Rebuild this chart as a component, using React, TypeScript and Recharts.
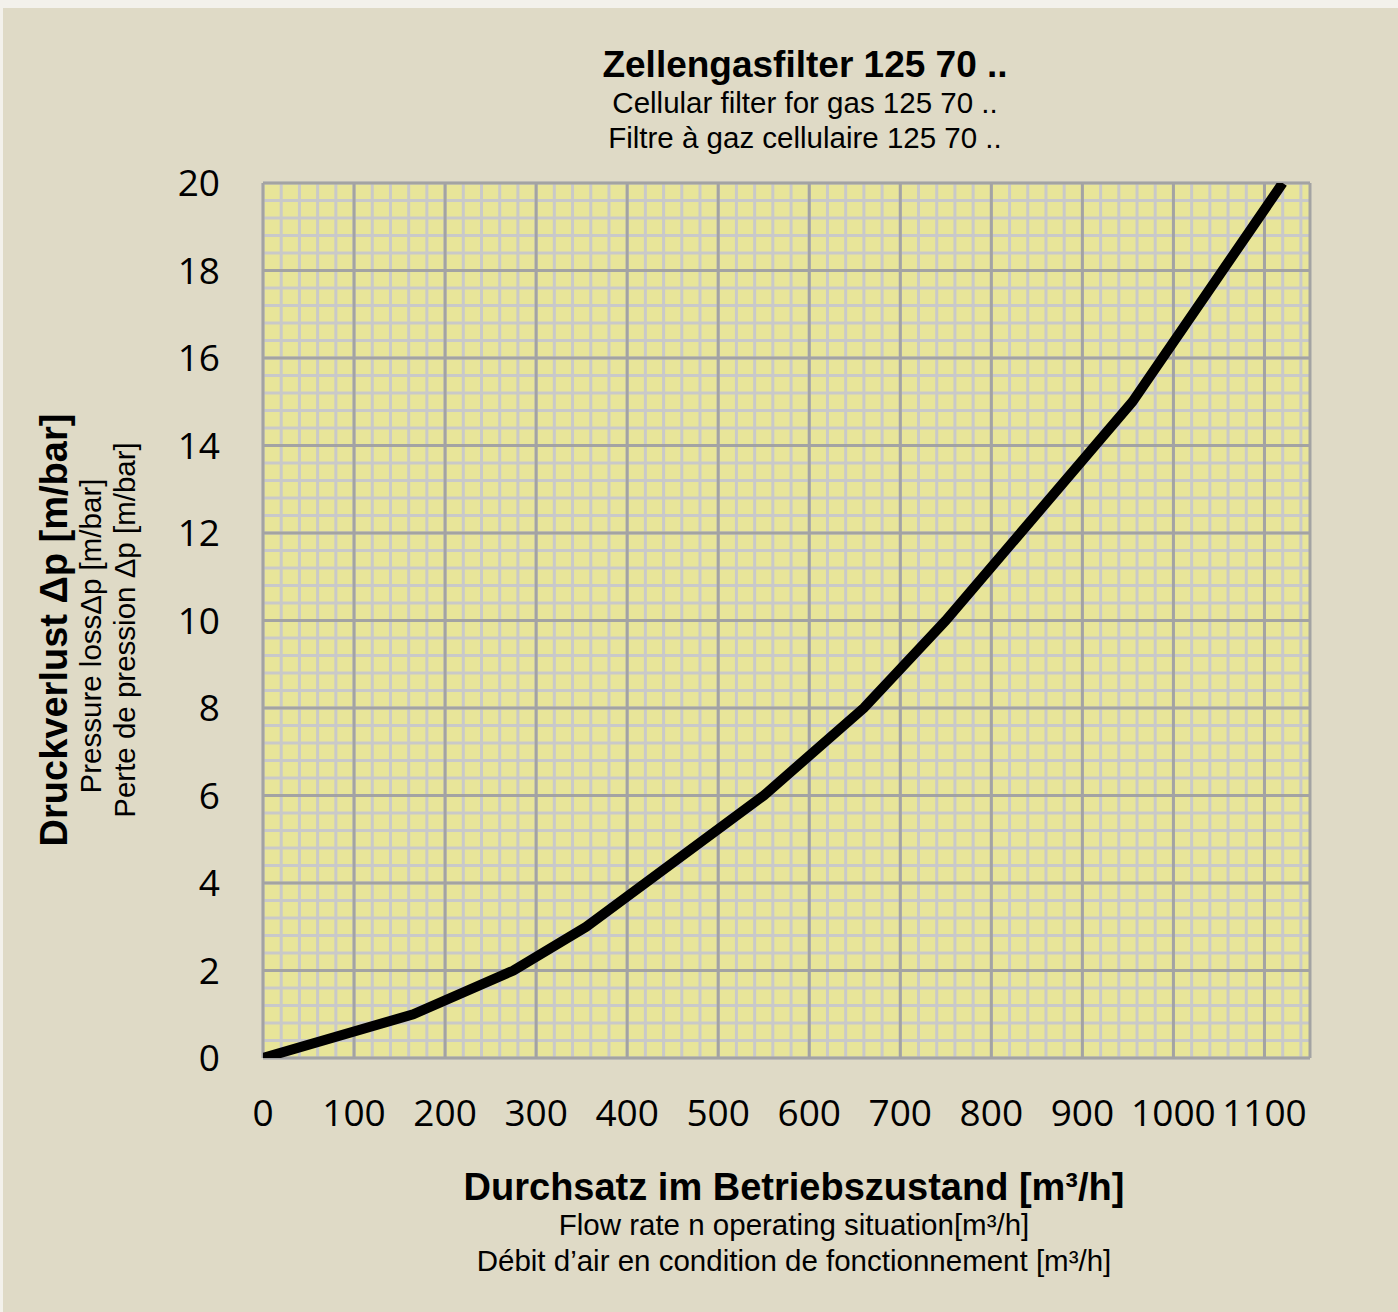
import React from 'react';
import { LineChart, Line, XAxis, YAxis, CartesianGrid } from 'recharts';

// Flow rate in operating situation [m³/h]
const flowRate = [0, 165, 275, 355, 550, 660, 750, 955, 1120];
// Pressure loss Δp [m/bar]
const pressureLoss = [0, 1, 2, 3, 6, 8, 10, 15, 20];

const xTicks = [0, 100, 200, 300, 400, 500, 600, 700, 800, 900, 1000, 1100];
const yTicks = [0, 2, 4, 6, 8, 10, 12, 14, 16, 18, 20];
const xMinorGrid = [0, 20, 40, 60, 80, 100, 120, 140, 160, 180, 200, 220, 240, 260, 280, 300, 320, 340, 360, 380, 400, 420, 440, 460, 480, 500, 520, 540, 560, 580, 600, 620, 640, 660, 680, 700, 720, 740, 760, 780, 800, 820, 840, 860, 880, 900, 920, 940, 960, 980, 1000, 1020, 1040, 1060, 1080, 1100, 1120, 1140];
const yMinorGrid = [0, 0.4, 0.8, 1.2, 1.6, 2, 2.4, 2.8, 3.2, 3.6, 4, 4.4, 4.8, 5.2, 5.6, 6, 6.4, 6.8, 7.2, 7.6, 8, 8.4, 8.8, 9.2, 9.6, 10, 10.4, 10.8, 11.2, 11.6, 12, 12.4, 12.8, 13.2, 13.6, 14, 14.4, 14.8, 15.2, 15.6, 16, 16.4, 16.8, 17.2, 17.6, 18, 18.4, 18.8, 19.2, 19.6, 20];

const titleLines = ['Zellengasfilter 125 70 ..', 'Cellular filter for gas 125 70 ..', 'Filtre à gaz cellulaire 125 70 ..'];
const xLabelLines = ['Durchsatz im Betriebszustand [m³/h]', 'Flow rate n operating situation[m³/h]', 'Débit d’air en condition de fonctionnement [m³/h]'];
const yLabelLines = ['Druckverlust Δp [m/bar]', 'Pressure lossΔp [m/bar]', 'Perte de pression Δp [m/bar]'];

const data = flowRate.map((f, i) => ({ flow: f, dp: pressureLoss[i] }));

const SANS = '"Liberation Sans", Arial, sans-serif';
const TICK_FONT = '"Open Sans", "DejaVu Sans", sans-serif';

export default function App() {
  return (
    <div style={{ position: 'absolute', left: 0, top: 0, width: 1398, height: 1312, background: '#F3F1EB', overflow: 'hidden' }}>
      <div style={{ position: 'absolute', left: 3, top: 8, width: 1395, height: 1304, background: '#DFDAC6' }}>
        <LineChart width={1395} height={1304} data={data} margin={{ top: 175, right: 88, bottom: 224, left: 0 }}>
          <CartesianGrid
            verticalValues={xMinorGrid}
            horizontalValues={yMinorGrid}
            stroke="#C9C9C9"
            strokeWidth={3}
            fill="#E8E599"
            fillOpacity={1}
          />
          <CartesianGrid stroke="#A3A3A3" strokeWidth={3} />
          <XAxis
            type="number"
            dataKey="flow"
            domain={[0, 1150]}
            ticks={xTicks}
            interval={0}
            axisLine={false}
            tickLine={false}
            tickSize={0}
            tickMargin={42}
            height={30}
            allowDataOverflow
            tick={{ fill: '#000', fontSize: 37, fontFamily: TICK_FONT }}
          />
          <YAxis
            type="number"
            domain={[0, 20]}
            ticks={yTicks}
            interval={0}
            width={260}
            axisLine={false}
            tickLine={false}
            tickSize={0}
            tickMargin={43}
            allowDataOverflow
            tick={{ fill: '#000', fontSize: 37, fontFamily: TICK_FONT }}
          />
          <Line
            type="linear"
            dataKey="dp"
            stroke="#000"
            strokeWidth={10}
            dot={false}
            activeDot={false}
            isAnimationActive={false}
          />
        </LineChart>
      </div>
      <svg width={1398} height={1312} style={{ position: 'absolute', left: 0, top: 0, pointerEvents: 'none' }}>
        <g fontFamily={SANS} fill="#000" textAnchor="middle">
          <text x={805} y={77} fontSize={37} fontWeight="bold">{titleLines[0]}</text>
          <text x={805} y={113} fontSize={29.5}>{titleLines[1]}</text>
          <text x={805} y={148} fontSize={29.5}>{titleLines[2]}</text>

          <text x={794} y={1200} fontSize={38} fontWeight="bold">{xLabelLines[0]}</text>
          <text x={794} y={1235} fontSize={29.5}>{xLabelLines[1]}</text>
          <text x={794} y={1271} fontSize={29.5}>{xLabelLines[2]}</text>

          <text transform="translate(67,630) rotate(-90)" fontSize={38} fontWeight="bold">{yLabelLines[0]}</text>
          <text transform="translate(101,636) rotate(-90)" fontSize={29.5}>{yLabelLines[1]}</text>
          <text transform="translate(135,630) rotate(-90)" fontSize={29.5}>{yLabelLines[2]}</text>
        </g>
      </svg>
    </div>
  );
}
